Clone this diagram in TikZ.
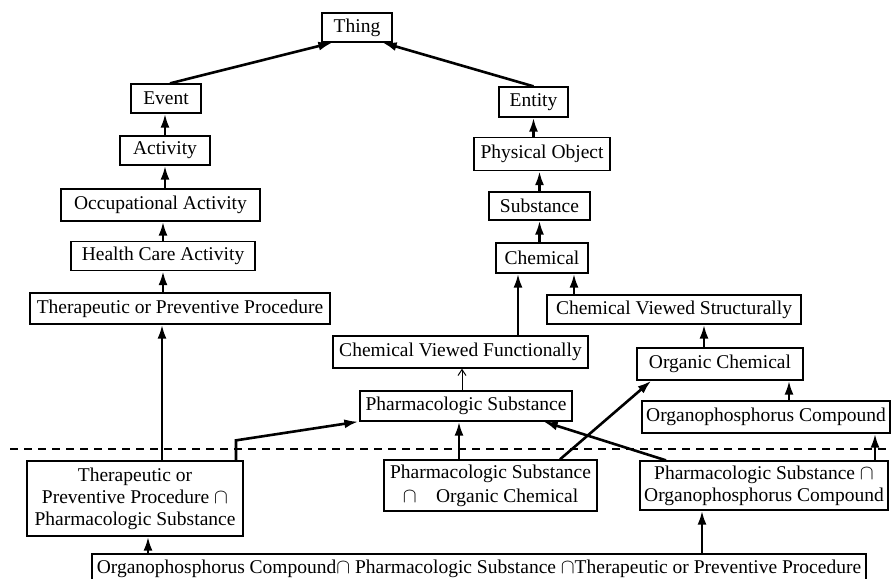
\documentclass[tikz,border=0pt]{standalone}
\usepackage{fontspec}
\setmainfont{Liberation Serif}
\usetikzlibrary{arrows.meta}
\newcommand{\isect}{$\cap$}

\begin{document}
\begin{tikzpicture}[x=1pt,y=-1pt,
  box/.style={draw, line width=1.3pt, align=center, inner xsep=3pt, inner ysep=2pt,
    minimum height=29pt, font=\fontsize{19.5}{22}\selectfont},
  isa/.style={line width=2.6pt, -{Latex[length=14pt,width=9pt]}},
  weakisa/.style={line width=1pt, -{Straight Barb[length=6pt,width=8pt]}}]
\useasboundingbox (0,0) rectangle (891,578);
% top
\node[box,minimum width=70pt] (Thing) at (357,27.5) {Thing};
% event branch
\node[box,minimum width=70pt] (Event) at (166,98.5) {Event};
\node[box,minimum width=90pt] (Activity) at (165,150.5) {Activity};
\node[box,minimum width=199pt,minimum height=32pt] (OccAct) at (160.5,205) {Occupational Activity};
\node[box,minimum width=184pt] (HCA) at (163,256) {Health Care Activity};
\node[box,minimum width=300pt,minimum height=31pt] (TPP) at (180,308.5) {Therapeutic or Preventive Procedure};
% entity branch
\node[box,minimum width=69pt,minimum height=30pt] (Entity) at (533.5,102) {Entity};
\node[box,minimum width=136pt,minimum height=33pt] (PhysObj) at (542,154) {Physical Object};
\node[box,minimum width=101pt,minimum height=28pt] (Substance) at (539.5,206) {Substance};
\node[box,minimum width=92pt,minimum height=30pt] (Chemical) at (542,258) {Chemical};
\node[box,minimum width=254pt] (CVS) at (674,309.5) {Chemical Viewed Structurally};
\node[box,minimum width=255pt,minimum height=32pt] (CVF) at (460.5,352) {Chemical Viewed Functionally};
\node[box,minimum width=166pt,minimum height=32pt] (OrgChem) at (720,364) {Organic Chemical};
\node[box,minimum width=212pt,minimum height=30pt] (Pharm) at (466,406) {Pharmacologic Substance};
\node[box,minimum width=248pt,minimum height=32pt] (OPC) at (766,417) {Organophosphorus Compound};
% cut
\draw[line width=2pt, dash pattern=on 8pt off 6pt] (10,449) -- (891,449);
% intersections
\node[box,minimum width=216pt,minimum height=75pt] (TPPPS) at (135,498.5)
  {Therapeutic or\\ Preventive Procedure \isect\\ Pharmacologic Substance};
\node[box,minimum width=213pt,minimum height=51pt] (PSOC) at (490.5,485.5)
  {Pharmacologic Substance\\[2pt] \isect\quad Organic Chemical};
\node[box,minimum width=248pt,minimum height=49pt] (PSOPC) at (764,485.5)
  {Pharmacologic Substance \isect\\ Organophosphorus Compound};
\node[box,minimum width=774pt,minimum height=30pt] (Bottom) at (479,569)
  {Organophosphorus Compound\isect\ Pharmacologic Substance \isect Therapeutic or Preventive Procedure};
% links
\draw[isa] ([xshift=4pt]Event.north) -- ([xshift=11pt]Thing.south west);
\draw[isa] (Entity.north) -- ([xshift=-10pt]Thing.south east);
\draw[isa] (Activity.north) -- (Activity.north |- Event.south);
\draw[isa] (Activity.south |- OccAct.north) -- (Activity.south);
\draw[isa] (HCA.north) -- (HCA.north |- OccAct.south);
\draw[isa] (HCA.south |- TPP.north) -- (HCA.south);
\draw[isa] (PhysObj.north -| Entity) -- (Entity.south);
\draw[isa] (Substance.north) -- (Substance.north |- PhysObj.south);
\draw[isa] (Substance.south |- Chemical.north) -- (Substance.south);
\draw[isa] ([xshift=57.5pt]CVF.north) -- ([xshift=-24pt]Chemical.south);
\draw[isa] ([xshift=-100pt]CVS.north) -- ([xshift=32pt]Chemical.south);
\draw[isa] ([xshift=-16pt]OrgChem.north) -- ([xshift=30pt]CVS.south);
\draw[isa] ([xshift=23pt]OPC.north) -- ([xshift=69pt]OrgChem.south);
\draw[weakisa] ([xshift=-4pt]Pharm.north) -- ([xshift=1.5pt]CVF.south);
% below the cut
\draw[isa] ([xshift=27pt]TPPPS.north) -- ([xshift=-18pt]TPP.south);
\draw[isa] ([xshift=101pt]TPPPS.north) -- ++(0,-20) -- ([xshift=-1pt]Pharm.south west);
\draw[isa] ([xshift=-31.5pt]PSOC.north) -- ([xshift=-7pt]Pharm.south);
\draw[isa] ([xshift=69.5pt]PSOC.north) -- ([xshift=15pt]OrgChem.south west);
\draw[isa] ([xshift=-98pt]PSOPC.north) -- ([xshift=-29pt]Pharm.south east);
\draw[isa] ([xshift=111pt]PSOPC.north) -- ([xshift=109pt]OPC.south);
\draw[isa] ([xshift=-331pt]Bottom.north) -- ([xshift=13pt]TPPPS.south);
\draw[isa] ([xshift=223pt]Bottom.north) -- ([xshift=-62pt]PSOPC.south);
\end{tikzpicture}
\end{document}
